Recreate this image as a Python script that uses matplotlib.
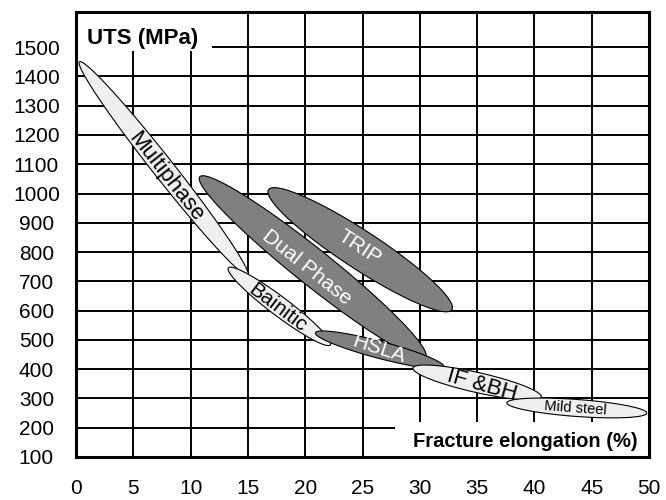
import matplotlib
matplotlib.use('Agg')

import matplotlib.pyplot as plt
from matplotlib.patches import Rectangle
import numpy as np

plt.rcParams['font.family'] = ['Liberation Sans', 'DejaVu Sans']

# steel grades: elongation (%) and UTS (MPa) at the two tips of each band
grades = ['Multiphase', 'Bainitic', 'Dual Phase', 'TRIP', 'HSLA', 'IF &BH', 'Mild steel']
elong_start = [0.3, 13.3, 10.8, 16.8, 20.9, 29.4, 37.6]
uts_start = [1450, 746, 1057, 1013, 524, 404, 285]
elong_end = [15.0, 22.2, 30.5, 32.8, 32.1, 40.6, 49.8]
uts_end = [720, 483, 442, 603, 408, 305, 250]

x_ticks = list(range(0, 51, 5))
y_ticks = list(range(100, 1501, 100))

# styling per band (band thickness in pixels, fill, text colour, text size)
band_px = [21, 19, 36, 38, 17, 20, 17]
fills = ['#efefef', '#efefef', '#808080', '#808080', '#808080', '#efefef', '#efefef']
text_cols = ['black', 'black', 'white', 'white', 'white', 'black', 'black']
text_size = [16, 15, 15, 15, 15, 16, 10.5]
label_x = [7.87, 17.57, 20.1, 24.7, 26.4, 35.4, 43.6]
label_y = [1057, 609, 746, 815, 469, 343, 268]
label_rot_extra = [0, 0, 0, 0, -3, -3, 0]

fig = plt.figure(figsize=(6.66, 5.0), dpi=100)
ax = fig.add_axes([76 / 666, 43 / 500, 573 / 666, 445 / 500])
ax.set_xlim(0, 50)
ax.set_ylim(100, 1620)

ax.set_xticks(x_ticks)
ax.set_yticks(y_ticks)
ax.tick_params(length=0, labelsize=15)
ax.tick_params(axis='x', pad=15.5)
ax.tick_params(axis='y', pad=28.5)
for lab in ax.get_yticklabels():
    lab.set_horizontalalignment('center')

ax.set_axisbelow(True)
ax.grid(True, color='black', linewidth=1.4)
for sp in ax.spines.values():
    sp.set_linewidth(2.2)
    sp.set_zorder(5)

# white boxes behind the axis titles
ax.add_patch(Rectangle((0, 1486), 11.9, 200, facecolor='white', edgecolor='none', zorder=1))
ax.add_patch(Rectangle((27.8, 100), 30, 120, facecolor='white', edgecolor='none', zorder=1))
ax.text(1.0, 1509, 'UTS (MPa)', fontsize=16, fontweight='bold', ha='left', va='baseline', zorder=6)
ax.text(49.0, 135, 'Fracture elongation (%)', fontsize=14.5, fontweight='bold',
        ha='right', va='baseline', zorder=6)

fig.canvas.draw()
to_disp = ax.transData
to_data = ax.transData.inverted()
t = np.linspace(0, 2 * np.pi, 300)

angles = []
for i in range(len(grades)):
    p0 = np.array(to_disp.transform((elong_start[i], uts_start[i])))
    p1 = np.array(to_disp.transform((elong_end[i], uts_end[i])))
    c = (p0 + p1) / 2
    d = p1 - p0
    a = np.hypot(d[0], d[1]) / 2
    u = d / (2 * a)
    v = np.array([-u[1], u[0]])
    b = band_px[i] / 2
    pts = c + np.outer(a * np.cos(t), u) + np.outer(b * np.sin(t), v)
    angles.append(np.degrees(np.arctan2(d[1], d[0])))
    data_pts = to_data.transform(pts)
    ax.fill(data_pts[:, 0], data_pts[:, 1], facecolor=fills[i], edgecolor='black',
            linewidth=0.8, zorder=2 + i * 0.05)

for i, name in enumerate(grades):
    ax.text(label_x[i], label_y[i], name, color=text_cols[i], fontsize=text_size[i],
            rotation=angles[i] + label_rot_extra[i], rotation_mode='anchor',
            ha='center', va='center', zorder=4)

plt.savefig('out.png', dpi=100)
